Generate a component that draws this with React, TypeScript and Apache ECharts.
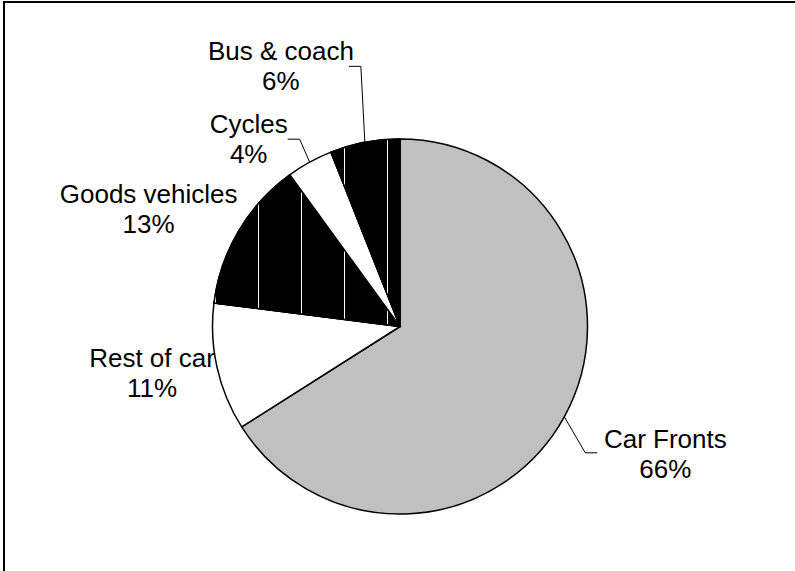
import React, { useEffect, useRef } from "react";
import * as echarts from "echarts";

// ---- data ----
const categories = ["Car Fronts", "Rest of car", "Goods vehicles", "Cycles", "Bus & coach"];
const values = [66, 11, 13, 4, 6];

// ---- styling (not data) ----
const fills = ["#c0c0c0", "#ffffff", "#000000", "#ffffff", "#000000"];
const striped = [false, false, true, false, true];
const showLeader = [true, false, false, true, true];
// label centre offset relative to the slice's outer edge point
const labelOffsets: number[][] = [[101, 37], [-65, 6], [-90, -22], [-61, -23], [-84, -76]];
// leader bend points relative to the edge point
const leaderBends: (number[][] | null)[] = [
  [[21, 36], [33, 36]],
  null,
  null,
  [[-10, -23], [-22, -23]],
  [[-4, -76], [-16, -76]],
];

const CX = 400;
const CY = 326.5;
const R = 187.5;

export default function App() {
  const ref = useRef<HTMLDivElement>(null);

  useEffect(() => {
    if (!ref.current) return;
    const chart = echarts.init(ref.current, undefined, { renderer: "svg" });
    const total = values.reduce((a, b) => a + b, 0);
    const cum: number[] = [];
    let acc = 0;
    values.forEach((v) => {
      cum.push(acc + v / 2);
      acc += v;
    });

    const data = categories.map((name, i) => ({
      name,
      value: values[i],
      itemStyle: {
        color: fills[i],
        borderColor: "#000",
        borderWidth: 1.5,
        decal: striped[i]
          ? {
              symbol: "rect",
              symbolSize: 1,
              color: "#ffffff",
              dashArrayX: [1, 42],
              dashArrayY: [10, 0],
              rotation: 0,
            }
          : "none",
      },
      labelLine: showLeader[i]
        ? { show: true, lineStyle: { color: "#000", width: 1 } }
        : { show: true, lineStyle: { color: "#000", width: 1, opacity: 0 } },
    }));

    chart.setOption({
      animation: false,
      backgroundColor: "#ffffff",
      graphic: [
        {
          type: "rect",
          silent: true,
          shape: { x: 4, y: 2, width: 1000, height: 1000 },
          style: { fill: "none", stroke: "#000", lineWidth: 2 },
        },
      ],
      series: [
        {
          type: "pie",
          center: [CX, CY],
          radius: R,
          startAngle: 90,
          clockwise: true,
          avoidLabelOverlap: false,
          emphasis: { disabled: true },
          data,
          label: {
            show: true,
            position: "outside",
            formatter: (p: any) => `${p.name}\n${Math.round(p.percent)}%`,
            fontSize: 26,
            lineHeight: 30,
            color: "#000",
            fontFamily: "'Liberation Sans', Arial, sans-serif",
            align: "center",
          },
          labelLine: { show: true, length: 10, length2: 10, smooth: false },
          labelLayout: (params: any) => {
            const i = params.dataIndex;
            let ex: number, ey: number;
            if (params.labelLinePoints && params.labelLinePoints[0]) {
              ex = params.labelLinePoints[0][0];
              ey = params.labelLinePoints[0][1];
            } else {
              const ang = (Math.PI / 2) - (2 * Math.PI * cum[i]) / total;
              ex = CX + R * Math.cos(ang);
              ey = CY - R * Math.sin(ang);
            }
            const off = labelOffsets[i];
            const res: any = {
              x: ex + off[0],
              y: ey + off[1],
              align: "center",
              verticalAlign: "middle",
            };
            const b = leaderBends[i];
            if (b) {
              res.labelLinePoints = [
                [ex, ey],
                [ex + b[0][0], ey + b[0][1]],
                [ex + b[1][0], ey + b[1][1]],
              ];
            } else {
              res.labelLinePoints = [[ex, ey], [ex, ey], [ex, ey]];
            }
            return res;
          },
        },
      ],
    });

    return () => chart.dispose();
  }, []);

  return (
    <div
      ref={ref}
      style={{ position: "fixed", left: 0, top: 0, width: 795, height: 571, background: "#fff" }}
    />
  );
}
